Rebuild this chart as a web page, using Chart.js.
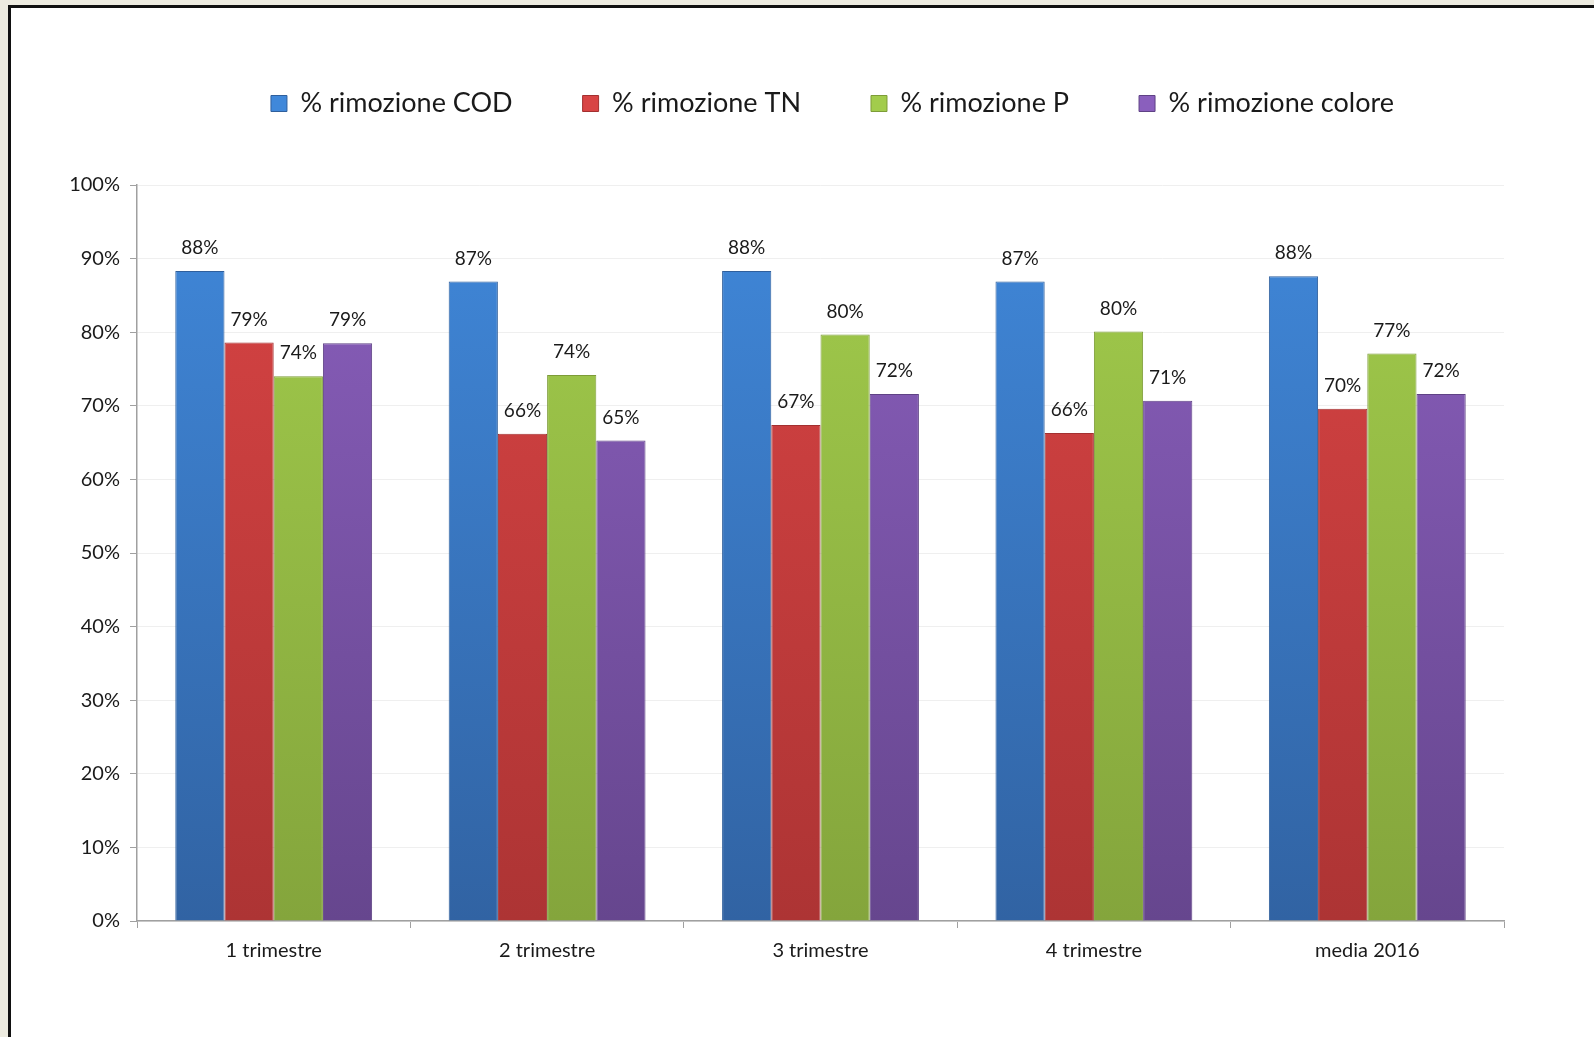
<!DOCTYPE html>
<html>
<head>
<meta charset="utf-8">
<script src="https://cdn.jsdelivr.net/npm/chart.js@4/dist/chart.umd.min.js"></script>
<style>
  html, body { margin: 0; padding: 0; background: #edebe0; overflow: hidden; }
  #frame {
    position: absolute; left: 8px; top: 5px; width: 1600px; height: 1050px;
    background: #fff; border-left: 3px solid #111; border-top: 3px solid #111;
  }
  #wrap { position: absolute; left: 0; top: 0; width: 1594px; height: 1037px; }
</style>
</head>
<body>
<div id="frame"></div>
<div id="wrap"><canvas id="chart" width="1594" height="1037"></canvas></div>
<script>
const categories = ['1 trimestre', '2 trimestre', '3 trimestre', '4 trimestre', 'media 2016'];
const seriesNames = ['% rimozione COD', '% rimozione TN', '% rimozione P', '% rimozione colore'];
const codValues = [88.3, 86.9, 88.3, 86.9, 87.6];
const tnValues = [78.6, 66.2, 67.4, 66.3, 69.6];
const pValues = [74.0, 74.2, 79.7, 80.1, 77.1];
const coloreValues = [78.5, 65.3, 71.6, 70.7, 71.6];
const yTicks = [0, 10, 20, 30, 40, 50, 60, 70, 80, 90, 100];

const FONT = 'Lato, "Open Sans", sans-serif';

// vertical gradient, lighter at top like the excel bevel bars
function barFill(top, bottom) {
  return function (ctx) {
    const area = ctx.chart.chartArea;
    if (!area) return top;
    const g = ctx.chart.ctx.createLinearGradient(0, area.top, 0, area.bottom);
    g.addColorStop(0, top);
    g.addColorStop(1, bottom);
    return g;
  };
}

function makeDataset(label, values, top, bottom, edge) {
  return {
    label: label,
    data: values,
    backgroundColor: barFill(top, bottom),
    borderColor: edge,
    borderWidth: 1
  };
}

const valueLabels = {
  id: 'valueLabels',
  afterDatasetsDraw(chart) {
    const ctx = chart.ctx;
    ctx.save();
    ctx.font = '19px ' + FONT;
    ctx.fillStyle = '#1a1a1a';
    ctx.textAlign = 'center';
    ctx.textBaseline = 'middle';
    chart.data.datasets.forEach((ds, i) => {
      chart.getDatasetMeta(i).data.forEach((bar, j) => {
        ctx.fillText(Math.round(ds.data[j]) + '%', bar.x, bar.y - 23);
      });
    });
    ctx.restore();
  }
};

// extra room between legend and plot, and nudge it a bit right
const legendGap = {
  id: 'legendGap',
  beforeInit(chart) {
    const fit = chart.legend.fit;
    chart.legend.fit = function () {
      fit.call(this);
      this.height += 58;
    };
  },
  afterLayout(chart) {
    chart.legend.left += 12;
    chart.legend.right += 12;
  }
};

new Chart(document.getElementById('chart'), {
  type: 'bar',
  data: {
    labels: categories,
    datasets: [
      makeDataset(seriesNames[0], codValues, '#4088da', '#3163a3', '#2f5f9c'),
      makeDataset(seriesNames[1], tnValues, '#d84444', '#ad3434', '#a33030'),
      makeDataset(seriesNames[2], pValues, '#a2cc4c', '#84a53c', '#7d9c38'),
      makeDataset(seriesNames[3], coloreValues, '#8a5fbd', '#66468e', '#5f4285')
    ]
  },
  options: {
    responsive: false,
    animation: false,
    layout: { padding: { left: 0, right: 90, top: 20, bottom: 76 } },
    datasets: { bar: { categoryPercentage: 0.72, barPercentage: 1.0 } },
    scales: {
      x: {
        grid: { display: true, drawOnChartArea: false, tickLength: 7, tickColor: '#a0a0a0', offset: true },
        border: { color: '#a0a0a0', width: 1.5 },
        ticks: { color: '#1a1a1a', font: { family: FONT, size: 20 }, padding: 11 },
        afterFit(scale) { scale.height = 40; }
      },
      y: {
        min: 0,
        max: 100,
        afterBuildTicks(scale) { scale.ticks = yTicks.map(v => ({ value: v })); },
        grid: { color: '#efefef', tickLength: 7, tickColor: '#a0a0a0' },
        border: { color: '#a0a0a0', width: 1.5 },
        ticks: { color: '#1a1a1a', font: { family: FONT, size: 20 }, padding: 10, callback: v => v + '%' },
        afterFit(scale) { scale.width = 137; }
      }
    },
    plugins: {
      legend: {
        position: 'top',
        fullSize: false,
        labels: {
          color: '#1a1a1a',
          font: { family: FONT, size: 27 },
          boxWidth: 16,
          boxHeight: 16,
          padding: 70
        }
      },
      tooltip: { enabled: false }
    }
  },
  plugins: [valueLabels, legendGap]
});
</script>
</body>
</html>
